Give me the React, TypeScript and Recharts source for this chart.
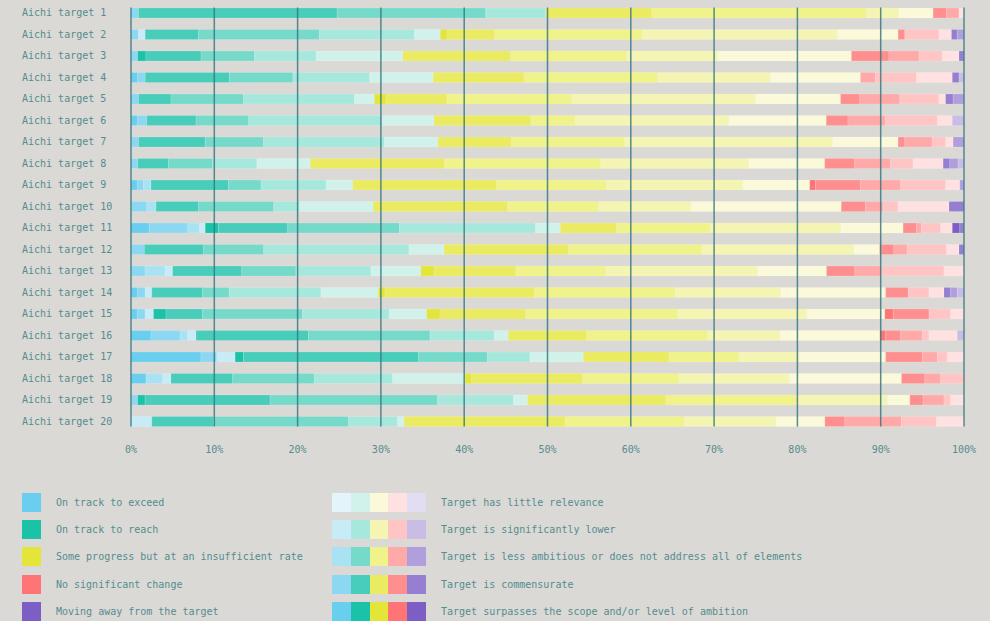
import { BarChart, Bar, XAxis, YAxis, ReferenceLine } from 'recharts';

const FONT = '"DejaVu Sans Mono", monospace';
const TEXT = '#558c90';
const BG = '#dad9d5';

const CATEGORIES = [
  'Aichi target 1', 'Aichi target 2', 'Aichi target 3', 'Aichi target 4', 'Aichi target 5',
  'Aichi target 6', 'Aichi target 7', 'Aichi target 8', 'Aichi target 9', 'Aichi target 10',
  'Aichi target 11', 'Aichi target 12', 'Aichi target 13', 'Aichi target 14', 'Aichi target 15',
  'Aichi target 16', 'Aichi target 17', 'Aichi target 18', 'Aichi target 19', 'Aichi target 20',
];

// each row: [surpasses, commensurate, less ambitious, significantly lower, little relevance]
const EXCEED = [
  [0, 0.9, 0, 0, 0], [0, 0.9, 0, 0.8, 0], [0, 0.8, 0, 0, 0], [0.8, 0.9, 0, 0, 0], [0, 0.9, 0, 0, 0],
  [0.8, 1.1, 0, 0, 0], [0, 0.9, 0, 0, 0], [0, 0.8, 0, 0, 0], [0.8, 0.7, 0.9, 0, 0], [0, 1.9, 1.1, 0, 0],
  [2.2, 4.6, 1.4, 0.7, 0], [0, 1.6, 0, 0, 0], [0, 1.7, 2.4, 0.9, 0], [0.8, 0.9, 0, 0.8, 0], [0.8, 0.9, 0, 1.0, 0],
  [2.4, 3.5, 0.9, 1.0, 0], [8.4, 1.9, 0, 2.2, 0], [1.8, 0, 2.0, 1.0, 0], [0, 0.8, 0, 0, 0], [0, 0, 0, 2.5, 0],
];
const REACH = [
  [0, 23.8, 17.8, 7.2, 0], [0, 6.4, 14.5, 11.4, 3.1], [1.0, 6.6, 6.4, 7.4, 10.4], [0, 10.1, 7.6, 9.2, 7.6], [0, 3.9, 8.7, 13.3, 2.4],
  [0, 5.9, 6.3, 16.0, 6.2], [0, 8.0, 7.0, 14.5, 6.4], [0, 3.7, 5.3, 5.3, 6.4], [0, 9.3, 3.9, 7.8, 3.2], [0, 5.1, 9.0, 3.1, 8.8],
  [1.6, 8.3, 13.4, 16.3, 3.0], [0, 7.1, 7.2, 17.4, 4.2], [0, 8.3, 6.5, 9.0, 6.0], [0, 6.1, 3.2, 11.0, 6.9], [1.5, 4.4, 12.0, 10.4, 4.5],
  [0, 13.5, 14.6, 7.7, 1.7], [1.0, 21.0, 8.3, 5.1, 6.4], [0, 7.4, 9.8, 9.4, 8.7], [0.9, 15.0, 20.1, 9.1, 1.7], [0, 7.4, 16.2, 5.9, 0.8],
];
const PROGRESS = [
  [0, 12.7, 25.7, 3.9, 4.1], [0.8, 5.7, 17.7, 23.4, 7.3], [0, 12.9, 13.9, 11.0, 16.0], [0, 10.9, 16.0, 13.5, 10.8], [1.4, 7.3, 14.9, 22.1, 10.2],
  [0, 11.6, 5.3, 18.4, 11.7], [0, 8.8, 13.6, 24.9, 7.9], [0, 16.1, 18.7, 17.8, 9.1], [0, 17.2, 13.2, 16.4, 8.0], [0, 16.1, 10.9, 11.1, 18.0],
  [0, 6.7, 11.3, 15.6, 7.5], [0, 14.9, 16.0, 18.2, 3.1], [1.6, 9.8, 10.8, 18.2, 8.3], [0.8, 17.9, 16.9, 12.7, 12.6], [1.6, 10.3, 18.2, 15.5, 9.4],
  [0, 9.4, 14.5, 8.7, 12.0], [0, 10.3, 8.4, 7.2, 10.4], [0.8, 13.3, 11.6, 13.2, 13.5], [0, 16.6, 15.7, 10.9, 2.7], [0, 19.3, 14.3, 11.0, 5.9],
];
const NO_CHANGE = [
  [0, 1.6, 1.5, 0, 0.6], [0, 0.8, 0, 4.1, 1.5], [0, 4.5, 3.6, 2.8, 2.0], [0, 0, 1.8, 4.9, 4.3], [0, 2.3, 4.8, 4.7, 0.8],
  [0, 2.6, 4.5, 6.2, 1.8], [0, 0.8, 3.3, 1.6, 0.9], [0, 3.6, 4.3, 2.7, 3.6], [0.7, 5.4, 4.8, 5.4, 1.7], [0, 2.9, 2.1, 1.8, 6.1],
  [0, 1.6, 0.6, 2.3, 1.4], [0.2, 1.5, 1.6, 4.7, 1.5], [0, 3.4, 3.2, 7.5, 2.4], [0, 2.7, 0, 2.5, 1.8], [1.0, 4.3, 0, 2.6, 1.6],
  [0.7, 1.8, 2.6, 0.8, 3.4], [0, 4.4, 1.8, 1.2, 2.0], [0, 2.8, 1.9, 2.8, 0], [0, 1.6, 2.5, 0.8, 1.6], [0, 2.4, 6.8, 4.2, 3.3],
];
const MOVING_AWAY = [
  [0, 0, 0, 0, 0], [0, 0.7, 0.8, 0, 0], [0, 0.6, 0, 0, 0], [0, 0.8, 0, 0.6, 0], [0, 0.9, 1.3, 0, 0],
  [0, 0, 0, 1.4, 0], [0, 0, 1.3, 0, 0], [0, 0.8, 1.0, 0.7, 0], [0, 0, 0.5, 0, 0], [0, 1.8, 0, 0, 0],
  [0.9, 0.5, 0, 0, 0], [0, 0.6, 0, 0, 0], [0, 0, 0, 0, 0], [0, 0.8, 0.8, 0.8, 0], [0, 0, 0, 0, 0],
  [0, 0, 0, 0.8, 0], [0, 0, 0, 0, 0], [0, 0, 0, 0, 0], [0, 0, 0, 0, 0], [0, 0, 0, 0, 0],
];

const TICKS = [0, 0.1, 0.2, 0.3, 0.4, 0.5, 0.6, 0.7, 0.8, 0.9, 1];

const STATUS = [
  { key: 'exceed', label: 'On track to exceed', values: EXCEED, colors: ['#6acfee', '#8cd8f2', '#a9e2f2', '#c7ebf7', '#e3f5fa'] },
  { key: 'reach', label: 'On track to reach', values: REACH, colors: ['#1ac2a8', '#47cdba', '#76dacb', '#a6e9dc', '#d1f2eb'] },
  { key: 'progress', label: 'Some progress but at an insufficient rate', values: PROGRESS, colors: ['#e3e638', '#eaeb61', '#f0f28a', '#f4f5b2', '#faf9da'] },
  { key: 'nochange', label: 'No significant change', values: NO_CHANGE, colors: ['#ff7575', '#ff8f8f', '#ffa9a9', '#ffc5c5', '#ffe1e1'] },
  { key: 'away', label: 'Moving away from the target', values: MOVING_AWAY, colors: ['#7d5ec5', '#967ed0', '#b09fdc', '#c9bde6', '#e3ddf3'] },
];

const LEVELS = [
  'Target surpasses the scope and/or level of ambition',
  'Target is commensurate',
  'Target is less ambitious or does not address all of elements',
  'Target is significantly lower',
  'Target has little relevance',
];

const data = CATEGORIES.map((name, i) => {
  const row: Record<string, any> = { name };
  STATUS.forEach((s) => s.values[i].forEach((v, j) => { row[`${s.key}${j}`] = v; }));
  return row;
});

const XTick = ({ x, payload }: any) => (
  <text x={x} y={449} textAnchor="middle" dominantBaseline="central" fill={TEXT} fontSize={10} fontFamily={FONT}>
    {`${Math.round(payload.value * 100)}%`}
  </text>
);

const YTick = ({ y, payload }: any) => (
  <text x={22} y={y} textAnchor="start" dominantBaseline="central" fill={TEXT} fontSize={10} fontFamily={FONT}>
    {payload.value}
  </text>
);

const gridLine = (p: any) => (
  <line x1={p.x1} x2={p.x2} y1={Math.min(p.y1, p.y2) + 5.5} y2={Math.max(p.y1, p.y2) - 5.5} stroke="#3b7880" strokeWidth={1.5} strokeOpacity={0.85} />
);

const ROW_TOP = [493, 520, 547, 575, 602];
const labelStyle = { position: 'absolute' as const, fontSize: 10, lineHeight: '19px', color: TEXT, whiteSpace: 'nowrap' as const };

export default function App() {
  return (
    <div style={{ position: 'absolute', left: 0, top: 0, width: 990, height: 621, background: BG, fontFamily: FONT, overflow: 'hidden' }}>
      <BarChart width={990} height={470} data={data} layout="vertical" stackOffset="expand" barSize={10}
        margin={{ top: 2, right: 26, bottom: 0, left: 0 }}>
        <XAxis type="number" domain={[0, 1]} ticks={TICKS} tick={XTick} axisLine={false} tickLine={false} height={38} />
        <YAxis type="category" dataKey="name" width={131} tick={YTick} axisLine={false} tickLine={false} interval={0} />
        {STATUS.flatMap((s) => s.colors.map((c, j) => (
          <Bar key={`${s.key}${j}`} dataKey={`${s.key}${j}`} stackId="a" fill={c}
            stroke="#ffffff" strokeOpacity={0.3} strokeWidth={0.5} isAnimationActive={false} />
        )))}
        {TICKS.map((t) => (
          <ReferenceLine key={t} x={t} shape={gridLine} zIndex={1000} />
        ))}
      </BarChart>

      {STATUS.map((s, i) => (
        <div key={s.key}>
          <div style={{ position: 'absolute', left: 22, top: ROW_TOP[i], width: 19, height: 19, background: s.colors[0] }} />
          <div style={{ ...labelStyle, left: 56, top: ROW_TOP[i] }}>{s.label}</div>
        </div>
      ))}
      {LEVELS.map((lvl, j) => {
        const i = 4 - j;
        return (
          <div key={lvl}>
            {STATUS.map((s, k) => (
              <div key={s.key} style={{ position: 'absolute', left: 332 + k * 18.8, top: ROW_TOP[i], width: 18.9, height: 19, background: s.colors[j] }} />
            ))}
            <div style={{ ...labelStyle, left: 441, top: ROW_TOP[i] }}>{lvl}</div>
          </div>
        );
      })}
    </div>
  );
}
